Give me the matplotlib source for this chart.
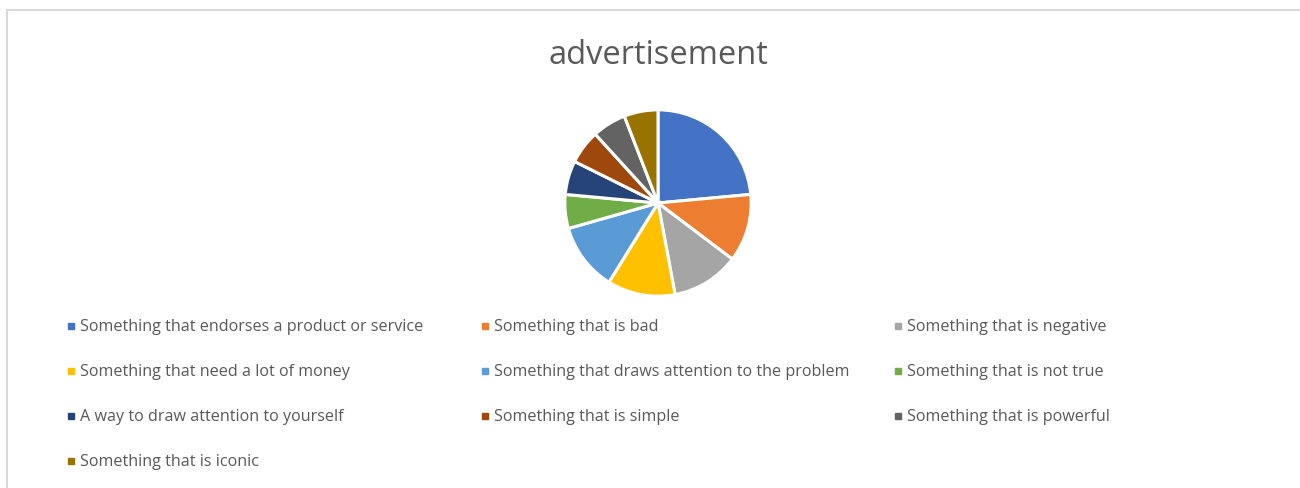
import matplotlib
matplotlib.use("Agg")
import matplotlib.pyplot as plt
from matplotlib.patches import Rectangle

# categories and counts
labels = ['Something that endorses a product or service', 'Something that is bad',
          'Something that is negative', 'Something that need a lot of money',
          'Something that draws attention to the problem', 'Something that is not true',
          'A way to draw attention to yourself', 'Something that is simple',
          'Something that is powerful', 'Something that is iconic']
values = [4, 2, 2, 2, 2, 1, 1, 1, 1, 1]
colors = ['#4472C4', '#ED7D31', '#A5A5A5', '#FFC000', '#5B9BD5',
          '#70AD47', '#264478', '#9E480E', '#636363', '#997300']

plt.rcParams['font.family'] = ['Open Sans', 'DejaVu Sans']
W, H = 1300, 488
fig = plt.figure(figsize=(W / 100, H / 100), dpi=100)

# chart area border (left and top only visible)
fig.add_artist(plt.Line2D([6.5 / W, 6.5 / W], [0, 1 - 10 / H], transform=fig.transFigure,
                          color='#d9d9d9', lw=1.5))
fig.add_artist(plt.Line2D([6.5 / W, 1], [1 - 10 / H, 1 - 10 / H], transform=fig.transFigure,
                          color='#d9d9d9', lw=1.5))

fig.text(658 / W, 1 - 55 / H, 'advertisement', ha='center', va='center',
         fontsize=23.5, color='#595959')

# pie
cx, cy, r = 658, 203, 95
ax = fig.add_axes([(cx - r) / W, 1 - (cy + r) / H, 2 * r / W, 2 * r / H])
ax.pie(values, colors=colors, startangle=90, counterclock=False,
       wedgeprops=dict(edgecolor='white', linewidth=2.2))
ax.set_xlim(-1.02, 1.02)
ax.set_ylim(-1.02, 1.02)
ax.set_aspect('equal')
ax.axis('off')

# legend, filled row by row in 3 columns
col_x = [68, 482, 895]
row_y = [326, 371, 416, 461]
for i, (lab, c) in enumerate(zip(labels, colors)):
    x = col_x[i % 3]
    y = row_y[i // 3]
    fig.add_artist(Rectangle((x / W, 1 - (y + 3) / H), 6 / W, 6 / H,
                             transform=fig.transFigure, color=c))
    fig.text((x + 12) / W, 1 - (y + 1) / H, lab, ha='left', va='center',
             fontsize=11.6, color='#595959')

fig.savefig('out.png', dpi=100)
